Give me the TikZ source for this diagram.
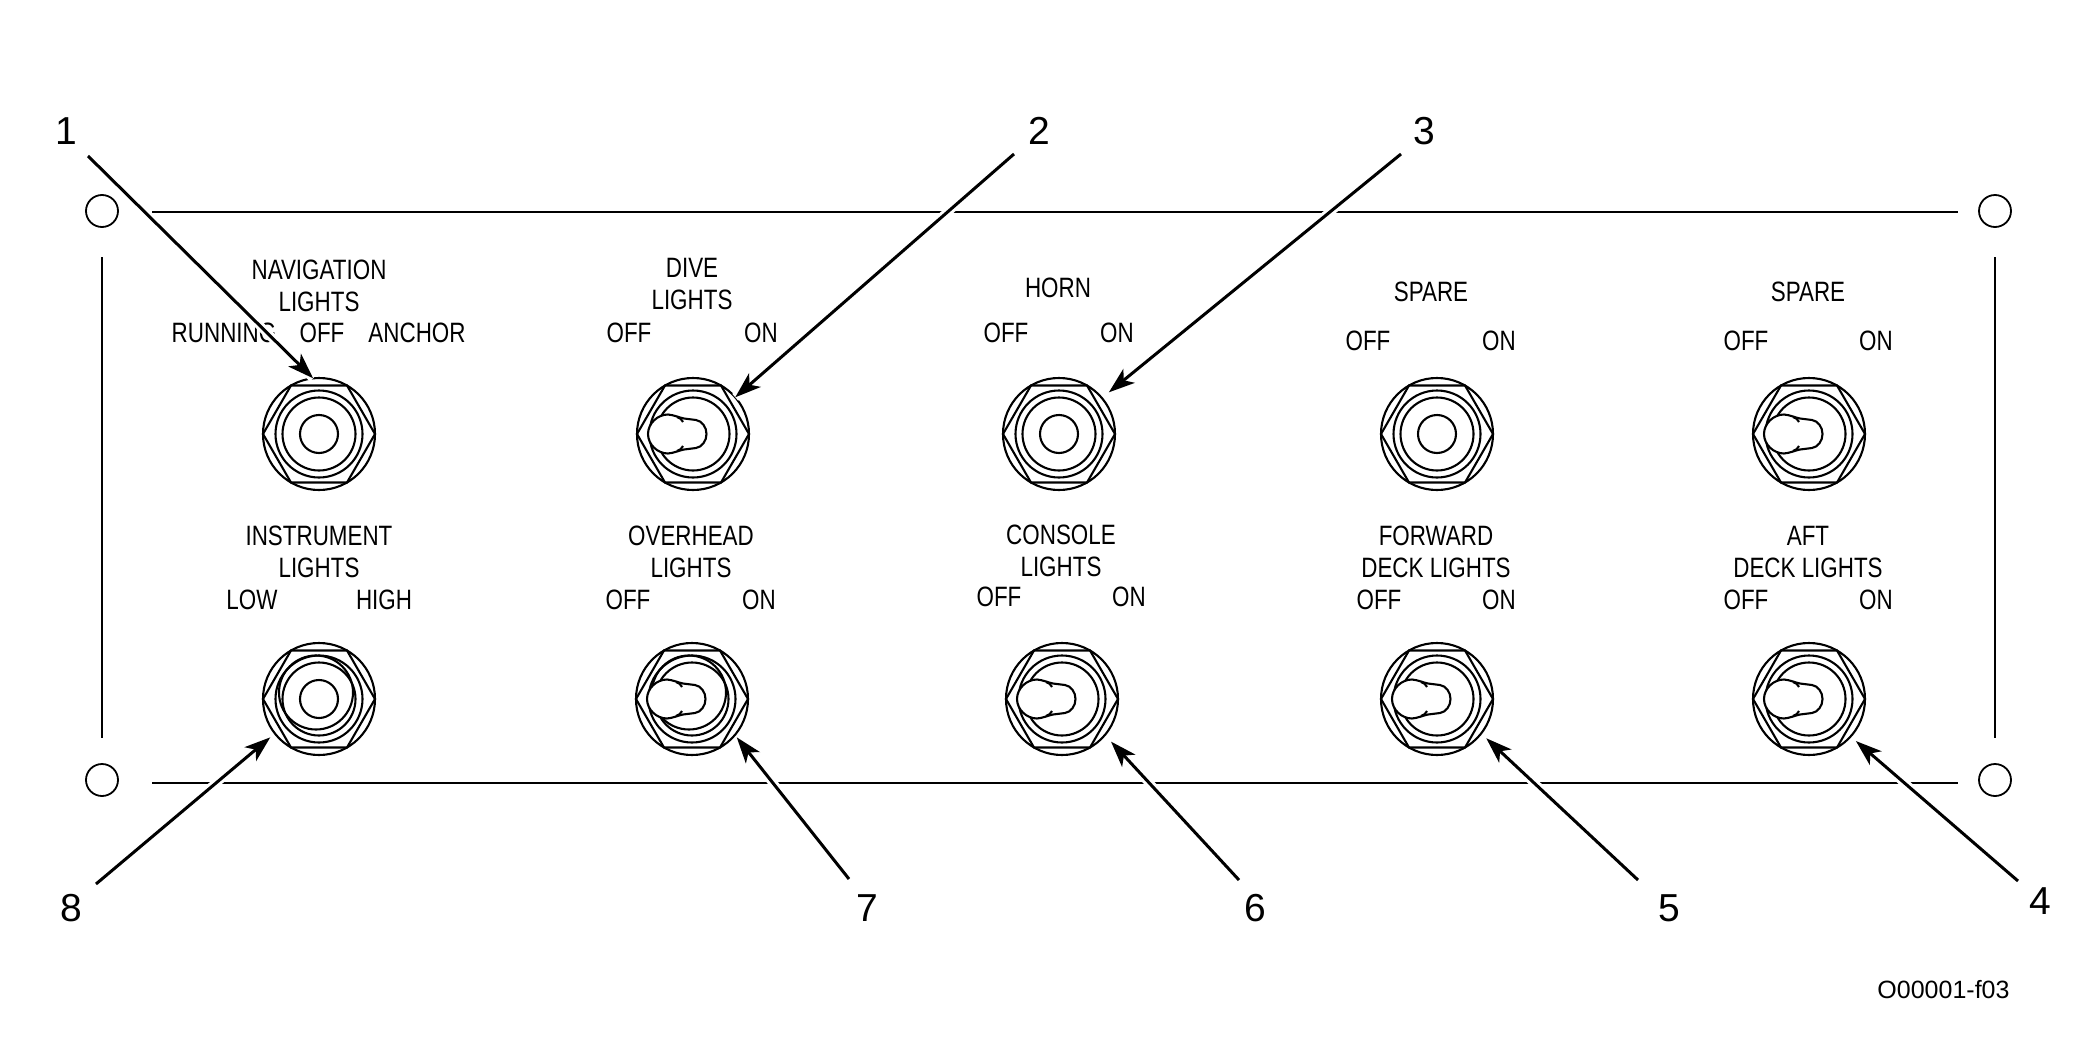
\documentclass[tikz,border=0pt]{standalone}
\usepackage{fontspec}
\setmainfont{Liberation Sans}
\newfontfamily\panelfont[FakeStretch=0.8]{Liberation Sans}
\usetikzlibrary{arrows.meta,calc}

\tikzset{
    swrim/.style={circle,draw,line width=1.05pt,minimum size=56pt,inner sep=0pt,outer sep=0pt},
    swline/.style={line width=1.05pt},
    swlabel/.style={font=\panelfont\fontsize{14}{16}\selectfont,align=center,inner sep=0pt},
    callnum/.style={font=\fontsize{19.5}{22}\selectfont,inner sep=0pt},
    frameline/.style={line width=1.05pt},
    callout/.style={-{Stealth[length=13pt,width=9pt,inset=3.5pt]},line width=1.5pt,
        preaction={draw=white,line width=4.5pt,-}},
}

% bolt head and collar of one switch
\newcommand{\switchbody}[2]{
    \node [swrim] (#1) at (#2) {};
    \begin{scope}[shift={(#2)}]
        \draw [swline] (0:56) -- (60:56) -- (120:56) -- (180:56) -- (240:56) -- (300:56) -- cycle;
        \draw [swline] (0,0) circle [radius=43.5];
        \draw [swline] (0,0) circle [radius=36.5];
    \end{scope}
}
% extra ring of the switches with a shifted collar
\newcommand{\switchring}[1]{
    \draw [swline] ($(#1)+(-3,-6.5)$) circle [radius=37];
}
% switch seen from the end of its lever
\newcommand{\leverend}[1]{
    \draw [swline] (#1) circle [radius=19];
}
% lever thrown to the left
\newcommand{\leverleft}[1]{
    \begin{scope}[shift={(#1)}]
        \draw [swline,fill=white] (-25,-19.5) .. controls (-19,-19) and (-14,-16.5) .. (-9,-15.5) -- (3,-14)
            .. controls (9,-13) and (13.5,-7) .. (13.5,0) .. controls (13.5,7) and (9,13) .. (3,14)
            -- (-9,15.5) .. controls (-14,16.5) and (-19,19) .. (-25,19.5)
            .. controls (-35.5,19.5) and (-45,10.5) .. (-45,0) .. controls (-45,-10.5) and (-35.5,-19.5) .. (-25,-19.5) -- cycle;
        \draw [swline] (-16,-17) .. controls (-13,-16) and (-11,-14.5) .. (-10,-12);
        \draw [swline] (-16,17) .. controls (-13,16) and (-11,14.5) .. (-10,12);
    \end{scope}
}

\begin{document}
\begin{tikzpicture}[x=0.5pt,y=-0.5pt]
    \useasboundingbox (0,0) rectangle (2100,1049);

    % panel outline
    \draw [frameline] (152,212) -- (1958,212);
    \draw [frameline] (152,783) -- (1958,783);
    \draw [frameline] (102,257) -- (102,738);
    \draw [frameline] (1995,257) -- (1995,738);
    \foreach \hname/\hpos in {hta/{102,211},htb/{1995,211},hba/{102,780},hbb/{1995,780}}
        \node [circle,draw,line width=0.9pt,minimum size=16pt,inner sep=0pt] (\hname) at (\hpos) {};

    % switches
    \switchbody{swnav}{319,434}
    \switchbody{swdive}{693,434}
    \switchbody{swhorn}{1059,434}
    \switchbody{swsparea}{1437,434}
    \switchbody{swspareb}{1809,434}
    \switchbody{swinst}{319,699}
    \switchbody{swover}{692,699}
    \switchbody{swcons}{1062,699}
    \switchbody{swfwd}{1437,699}
    \switchbody{swaft}{1809,699}
    \switchring{swinst}
    \switchring{swover}
    \leverend{swnav}
    \leverend{swhorn}
    \leverend{swsparea}
    \leverend{swinst}
    \leverleft{swdive}
    \leverleft{swspareb}
    \leverleft{swover}
    \leverleft{swcons}
    \leverleft{swfwd}
    \leverleft{swaft}

    % switch labels
    \node [swlabel] (navname) at (319,286) {NAVIGATION\\LIGHTS};
    \node [swlabel] (navrun) at (224,333) {RUNNING};
    \node [swlabel] (navoff) at (322,333) {OFF};
    \node [swlabel] (navanc) at (417,333) {ANCHOR};
    \node [swlabel] (divename) at (692,284) {DIVE\\LIGHTS};
    \node [swlabel] (diveoff) at (629,333) {OFF};
    \node [swlabel] (diveon) at (761,333) {ON};
    \node [swlabel] (hornname) at (1058,288) {HORN};
    \node [swlabel] (hornoff) at (1006,333) {OFF};
    \node [swlabel] (hornon) at (1117,333) {ON};
    \node [swlabel] (spareaname) at (1431,292) {SPARE};
    \node [swlabel] (spareaoff) at (1368,341) {OFF};
    \node [swlabel] (spareaon) at (1499,341) {ON};
    \node [swlabel] (sparebname) at (1808,292) {SPARE};
    \node [swlabel] (sparebeoff) at (1746,341) {OFF};
    \node [swlabel] (sparebon) at (1876,341) {ON};
    \node [swlabel] (instname) at (319,552) {INSTRUMENT\\LIGHTS};
    \node [swlabel] (instlow) at (252,600) {LOW};
    \node [swlabel] (insthigh) at (384,600) {HIGH};
    \node [swlabel] (overname) at (691,552) {OVERHEAD\\LIGHTS};
    \node [swlabel] (overoff) at (628,600) {OFF};
    \node [swlabel] (overon) at (759,600) {ON};
    \node [swlabel] (consname) at (1061,551) {CONSOLE\\LIGHTS};
    \node [swlabel] (consoff) at (999,597) {OFF};
    \node [swlabel] (conson) at (1129,597) {ON};
    \node [swlabel] (fwdname) at (1436,552) {FORWARD\\DECK LIGHTS};
    \node [swlabel] (fwdoff) at (1379,600) {OFF};
    \node [swlabel] (fwdon) at (1499,600) {ON};
    \node [swlabel] (aftname) at (1808,552) {AFT\\DECK LIGHTS};
    \node [swlabel] (aftoff) at (1746,600) {OFF};
    \node [swlabel] (afton) at (1876,600) {ON};

    % callout numbers
    \node [callnum] (numa) at (66,131) {1};
    \node [callnum] (numb) at (1039,131) {2};
    \node [callnum] (numc) at (1424,131) {3};
    \node [callnum] (numd) at (2040,901) {4};
    \node [callnum] (nume) at (1669,908) {5};
    \node [callnum] (numf) at (1255,908) {6};
    \node [callnum] (numg) at (867,908) {7};
    \node [callnum] (numh) at (71,908) {8};

    \coordinate (starta) at (88,156);
    \coordinate (startb) at (1014,154);
    \coordinate (startc) at (1401,154);
    \coordinate (startd) at (2018,881);
    \coordinate (starte) at (1638,880);
    \coordinate (startf) at (1239,880);
    \coordinate (startg) at (849,879);
    \coordinate (starth) at (96,884);

    \draw [callout] (starta) -- (swnav.96);
    \draw [callout] (startb) -- (swdive.41);
    \draw [callout,shorten >=4.5pt] (startc) -- (swhorn.40);
    \draw [callout,shorten >=3.5pt] (startd) -- (swaft.-42);
    \draw [callout,shorten >=3.5pt] (starte) -- (swfwd.-38);
    \draw [callout,shorten >=4.5pt] (startf) -- (swcons.-40);
    \draw [callout,shorten >=1.5pt] (startg) -- (swover.-40);
    \draw [callout,shorten >=3pt] (starth) -- (swinst.218);

    \node [font=\fontsize{12.5}{15}\selectfont,inner sep=0pt] (figtag) at (1943.5,990) {O00001-f03};
\end{tikzpicture}
\end{document}
